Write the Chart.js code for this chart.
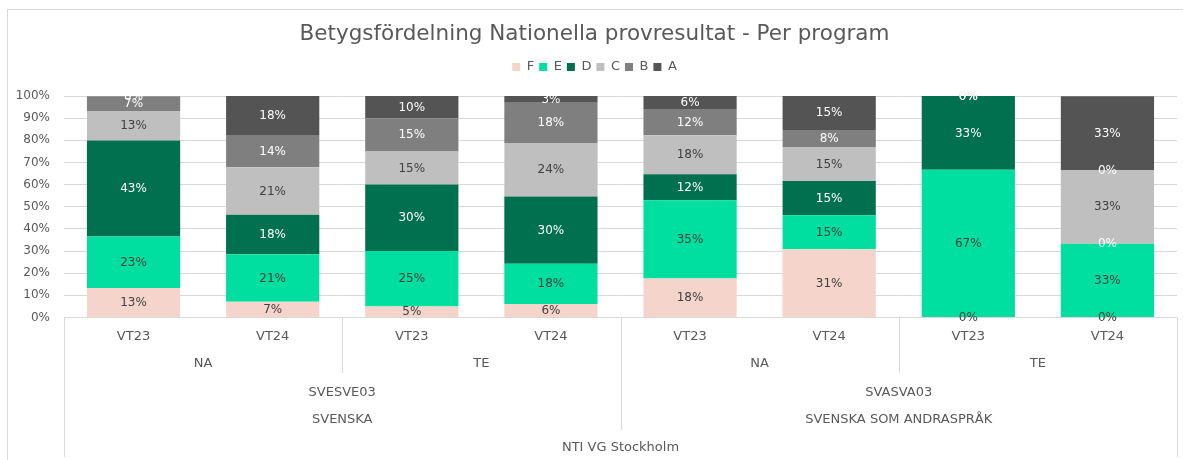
<!DOCTYPE html>
<html><head><meta charset="utf-8">
<script src="https://cdn.jsdelivr.net/npm/chart.js@4.4.0/dist/chart.umd.min.js"></script>
<style>html,body{margin:0;padding:0;background:#fff;}canvas{display:block;}</style>
</head><body>
<canvas id="c" width="1183" height="460"></canvas>
<script>
// ---- data ----
const periods  = ['VT23','VT24','VT23','VT24','VT23','VT24','VT23','VT24'];
const programs = ['NA','TE','NA','TE'];          // each spans 2 periods
const courses  = ['SVESVE03','SVASVA03'];        // each spans 4 periods
const subjects = ['SVENSKA','SVENSKA SOM ANDRASPRÅK'];
const school   = ['NTI VG Stockholm'];
const gradeNames = ['F','E','D','C','B','A'];
const gradeF = [13.3, 7.1, 5.0, 6.1, 17.6, 30.8, 0.0, 0.0];
const gradeE = [23.3, 21.4, 25.0, 18.2, 35.3, 15.4, 66.7, 33.3];
const gradeD = [43.3, 17.9, 30.0, 30.3, 11.8, 15.4, 33.3, 0.0];
const gradeC = [13.3, 21.4, 15.0, 24.2, 17.6, 15.4, 0.0, 33.3];
const gradeB = [6.7, 14.3, 15.0, 18.2, 11.8, 7.7, 0.0, 0.0];
const gradeA = [0.0, 17.9, 10.0, 3.0, 5.9, 15.4, 0.0, 33.3];
const titleText = 'Betygsfördelning Nationella provresultat - Per program';

const FONT = "'DejaVu Sans', sans-serif";
const colors = ['#F5D5CB','#00DF9F','#00704F','#BFBFBF','#7F7F7F','#545454'];
const labelColors = ['#404040','#404040','#FFFFFF','#404040','#FFFFFF','#FFFFFF'];
const series = [gradeF, gradeE, gradeD, gradeC, gradeB, gradeA];

const datasets = series.map((d,i)=>({
  label: gradeNames[i], data: d, backgroundColor: colors[i], borderWidth: 0,
  categoryPercentage: 0.67, barPercentage: 1.0
}));

const frame = {
  id: 'frame',
  beforeDraw(chart){
    const ctx = chart.ctx;
    ctx.save();
    ctx.strokeStyle = '#D9D9D9'; ctx.lineWidth = 1;
    ctx.strokeRect(7.5, 9.5, 1300, 600);
    ctx.restore();
  }
};

const dataLabels = {
  id: 'dataLabels',
  afterDatasetsDraw(chart){
    const ctx = chart.ctx;
    ctx.save();
    ctx.font = '12px ' + FONT;
    ctx.textAlign = 'center'; ctx.textBaseline = 'middle';
    chart.data.datasets.forEach((ds, i)=>{
      const meta = chart.getDatasetMeta(i);
      ctx.fillStyle = labelColors[i];
      meta.data.forEach((el, j)=>{
        const p = el.getProps(['x','y','base'], true);
        ctx.fillText(Math.round(ds.data[j]) + '%', p.x, (p.y + p.base)/2 + 0.5);
      });
    });
    ctx.restore();
  }
};

const hierarchy = {
  id: 'hierarchy',
  afterDraw(chart){
    const ctx = chart.ctx, xs = chart.scales.x, area = chart.chartArea;
    const n = periods.length;
    const px = i => xs.getPixelForValue(i);
    const edge = k => k <= 0 ? area.left : (k >= n ? area.right : (px(k-1) + px(k)) / 2);
    const top = area.bottom;
    ctx.save();
    ctx.strokeStyle = '#D9D9D9'; ctx.lineWidth = 1;
    const vline = (x, y2) => { ctx.beginPath(); ctx.moveTo(Math.round(x)+0.5, top); ctx.lineTo(Math.round(x)+0.5, y2); ctx.stroke(); };
    vline(area.left, 457); vline(area.right, 457);
    for (let k = 2; k < n; k += 2) vline(edge(k), k % 4 === 0 ? 430 : 373);
    ctx.fillStyle = '#595959';
    ctx.font = '13px ' + FONT;
    ctx.textAlign = 'center'; ctx.textBaseline = 'middle';
    const row = (labels, span, y) => labels.forEach((t, g) => {
      ctx.fillText(t, (edge(g*span) + edge((g+1)*span)) / 2, y);
    });
    row(periods, 1, 337);
    row(programs, 2, 364);
    row(courses, 4, 392.5);
    row(subjects, 4, 420);
    row(school, 8, 448);
    ctx.restore();
  }
};

new Chart(document.getElementById('c'), {
  type: 'bar',
  data: { labels: periods, datasets },
  options: {
    responsive: false, animation: false,
    layout: { padding: { left: 12, right: 6, top: 0, bottom: 0 } },
    plugins: {
      tooltip: { enabled: false },
      title: { display: true, text: titleText, color: '#595959',
        font: { family: FONT, size: 21.5, weight: 'normal' }, padding: { top: 21.1, bottom: 8.6 } },
      subtitle: { display: true, text: '', weight: 500, font: { size: 10, lineHeight: 1 }, padding: { top: 2.5, bottom: 0 } },
      legend: { position: 'top', align: 'center',
        labels: { boxWidth: 8, boxHeight: 8, padding: 5, color: '#595959', font: { family: FONT, size: 13 } } }
    },
    scales: {
      x: { stacked: true, grid: { display: false }, border: { display: false },
        ticks: { display: false },
        afterFit(s){ s.height = 142.5; } },
      y: { stacked: true, min: 0, max: 100,
        grid: { color: '#D9D9D9', drawTicks: false }, border: { display: false },
        ticks: { stepSize: 10, padding: 14, color: '#595959', font: { family: FONT, size: 12 },
          callback: v => v + '%' },
        afterFit(s){ s.width = 52; } }
    }
  },
  plugins: [frame, dataLabels, hierarchy]
});
</script>
</body></html>
